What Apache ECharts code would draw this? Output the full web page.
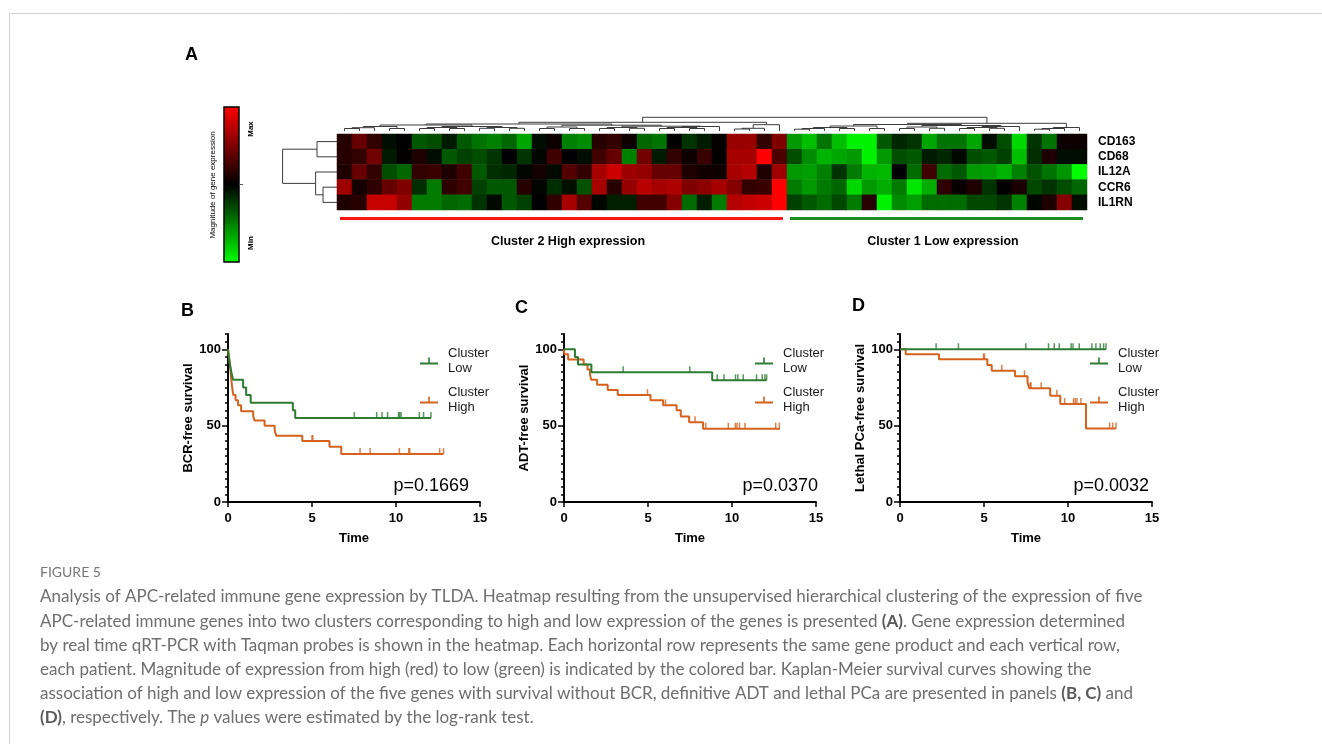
<!doctype html>
<html lang="en">
  <head>
    <meta charset="utf-8">
    <title>Figure 5</title>
    <script src="https://cdn.jsdelivr.net/npm/echarts@6.0.0/dist/echarts.min.js"></script>
    <style>
      html, body {
        width: 100%;
        height: 100%;
        margin: 0;
        background: #fff;
      }

      #chart {
        width: 1322px;
        height: 744px;
      }
    </style>
  </head>
  <body>
    <div id="chart"></div>
    <script>
      // ---- heatmap (A) ----
      const genes = ['CD163', 'CD68', 'IL12A', 'CCR6', 'IL1RN'];
      const patients = Array.from({ length: 50 }, (_, i) => 'P' + (i + 1));

      const cd163 = [0.15, 0.4, 0.2, -0.05, 0, -0.35, -0.3, -0.1, -0.35, -0.45, -0.5, -0.4, -0.65, -0.05, 0.05, -0.5, -0.55, 0.15, 0.2, 0.05, -0.4, -0.45, 0, -0.2, -0.1,
        0.02, 0.6, 0.6, 0.2, 0.5, -0.6, -0.75, -0.45, -0.75, -0.95, -0.95, -0.35, -0.15, -0.2, -0.65, -0.45, -0.45, -0.65, -0.05, -0.3, -0.85, -0.2, -0.45, 0.05, 0.05];
      const cd68 = [0.15, 0.2, 0.45, -0.1, 0.02, 0.12, -0.05, -0.35, -0.25, -0.3, -0.2, 0, -0.2, -0.02, 0.25, 0, -0.05, 0.25, 0.4, -0.5, 0.45, -0.1, 0.2, 0.05, 0.22,
        0.02, 0.65, 0.65, 1.0, 0.3, -0.3, -0.55, -0.7, -0.65, -0.6, -0.95, -0.6, -0.3, -0.35, -0.1, -0.15, -0.03, -0.3, -0.35, -0.25, -0.75, -0.18, 0.12, -0.05, -0.05];
      const il12a = [0.12, 0.4, 0.2, -0.3, -0.4, 0.2, 0.22, 0.12, 0.25, -0.35, -0.18, -0.15, -0.02, 0.08, -0.04, 0.32, 0.2, 0.65, 0.8, 0.62, 0.58, 0.4, 0.4, 0.12, 0.07,
        0.05, 0.65, 0.7, 0.12, 0.62, -0.6, -0.62, -0.5, -0.2, -0.48, -0.7, -0.72, 0, -0.42, 0.25, -0.42, -0.35, -0.6, -0.62, -0.7, -0.5, -0.32, -0.45, -0.58, -1.0];
      const ccr6 = [0.62, 0.08, 0.18, 0.4, 0.5, -0.18, -0.48, 0.18, 0.25, -0.25, -0.35, -0.35, 0.15, -0.02, -0.18, -0.06, -0.32, 0.65, 0.15, 0.58, 0.72, 0.65, 0.68, 0.5, 0.55,
        0.65, 0.52, 0.2, 0.22, 1.0, -0.48, -0.6, -0.48, -0.4, -0.85, -0.6, -0.68, -0.48, -0.9, -0.68, 0.18, 0.03, 0.12, -0.2, 0, 0.1, -0.28, -0.2, -0.3, -0.4];
      const il1rn = [0.12, 0.15, 0.78, 0.78, 0.58, -0.48, -0.48, -0.4, -0.42, -0.2, -0.03, -0.35, -0.25, 0, 0.18, 0.65, 0.32, -0.02, -0.12, -0.12, 0.25, 0.25, 0.52, -0.42, -0.12,
        -0.48, 0.7, 0.76, 0.8, 1.0, -0.25, -0.35, -0.42, -0.28, -0.48, 0.15, -0.95, -0.55, -0.62, -0.42, -0.42, -0.42, -0.28, -0.28, -0.2, -0.5, -0.02, 0.12, 0.52, -0.05];

      // column dendrogram: [childA, childB, height]; leaves 0..49, merges numbered from 50
      const colLinkage = [
        [0, 1, 2.5], [50, 2, 3.3], [3, 4, 2.5], [51, 52, 4.5], [5, 6, 2.5], [7, 8, 2.5], [54, 55, 3.5],
        [9, 10, 2.7], [11, 12, 2.7], [57, 58, 3.5], [56, 59, 4.5], [53, 60, 6], [13, 14, 2.5], [15, 16, 2.5],
        [62, 63, 4], [17, 18, 2.5], [19, 20, 2.7], [65, 66, 3.5], [21, 22, 2.5], [23, 24, 2.5], [68, 69, 3.5],
        [70, 25, 4.5], [67, 71, 4.8], [64, 72, 5.8], [61, 73, 7], [26, 27, 2], [75, 28, 2.7], [76, 29, 6.3],
        [74, 77, 8.7],
        [30, 31, 1.8], [79, 32, 2.5], [33, 34, 2.5], [80, 81, 3.5], [35, 36, 2.5], [82, 83, 5], [37, 38, 2.5],
        [39, 40, 2.7], [85, 86, 4], [41, 42, 2.5], [43, 44, 2.7], [88, 89, 3.5], [90, 45, 4.5], [87, 91, 5.5],
        [84, 92, 6.5], [46, 47, 1.8], [94, 48, 2.5], [95, 49, 3.5], [93, 96, 7.7],
        [78, 97, 13.7]
      ];
      // gene dendrogram, leaves 0..4, merges from 5
      const rowLinkage = [[0, 1, 20], [3, 4, 14], [2, 6, 21.4], [5, 7, 54.4]];

      const clusters = [
        { name: 'Cluster 2 High expression', from: 0, to: 30, color: '#ff1414' },
        { name: 'Cluster 1 Low expression', from: 30, to: 50, color: '#1b8f24' }
      ];

      // ---- Kaplan-Meier (B, C, D): [time, survival %] and censored times ----
      const bcrLow = [[0, 100], [0.05, 95], [0.12, 90], [0.2, 85], [0.3, 80], [0.9, 75], [1.08, 70], [1.35, 65], [3.86, 60], [4.0, 55], [12.08, 55]];
      const bcrLowCensor = [7.52, 8.85, 9.17, 9.5, 10.15, 10.22, 10.3, 11.39, 11.64, 12.08];
      const bcrHigh = [[0, 100], [0.04, 96.7], [0.08, 93.3], [0.11, 90], [0.14, 86.7], [0.17, 83.3], [0.2, 80], [0.23, 76.7], [0.27, 73.3], [0.32, 70],
        [0.45, 66.7], [0.6, 63.3], [0.78, 59.5], [1.5, 56.4], [1.58, 53.3], [2.18, 50], [2.78, 46.7], [2.88, 43.3], [4.42, 40], [6.04, 36.2], [6.74, 31.4], [12.83, 31.4]];
      const bcrHighCensor = [5.0, 5.05, 7.86, 8.46, 10.2, 10.76, 10.82, 12.6, 12.83];

      const adtLow = [[0, 100], [0.65, 95], [0.83, 90], [1.63, 85], [8.82, 79.7], [12.06, 79.7]];
      const adtLowCensor = [3.52, 7.49, 9.12, 9.52, 10.21, 10.35, 10.67, 11.46, 11.8, 11.96, 12.06];
      const adtHigh = [[0, 100], [0.02, 96.7], [0.25, 93.3], [1.17, 90], [1.4, 86.7], [1.55, 83.3], [1.62, 80], [1.97, 76.7], [2.6, 73.3], [3.2, 70],
        [5.15, 66.7], [5.9, 63.3], [6.7, 60], [6.95, 56], [7.45, 52.2], [8.28, 48], [12.85, 48]];
      const adtHighCensor = [4.97, 6.04, 7.8, 8.44, 9.78, 10.2, 10.3, 10.45, 10.77, 12.6, 12.82];

      const pcaLow = [[0, 100], [12.26, 100]];
      const pcaLowCensor = [2.15, 3.48, 7.49, 8.84, 9.18, 9.48, 10.19, 10.3, 10.67, 11.42, 11.66, 11.92, 12.12, 12.26];
      const pcaHigh = [[0, 100], [0.34, 96.7], [2.32, 93.4], [5.2, 89.7], [5.46, 86], [6.85, 82.3], [7.59, 78.3], [7.7, 74.4], [8.94, 69.6], [9.54, 64.1], [11.07, 48.1], [12.86, 48.1]];
      const pcaHighCensor = [4.97, 5.03, 6.06, 7.41, 7.75, 7.8, 8.4, 9.34, 9.8, 10.33, 10.43, 10.53, 10.77, 12.48, 12.66, 12.86];

      const panelLetters = ['B', 'C', 'D'];
      const yNames = ['BCR-free survival', 'ADT-free survival', 'Lethal PCa-free survival'];
      const pValues = ['p=0.1669', 'p=0.0370', 'p=0.0032'];
      const lowCurves = [bcrLow, adtLow, pcaLow];
      const lowCensors = [bcrLowCensor, adtLowCensor, pcaLowCensor];
      const highCurves = [bcrHigh, adtHigh, pcaHigh];
      const highCensors = [bcrHighCensor, adtHighCensor, pcaHighCensor];

      // ---- layout ----
      const FONT = '"Liberation Sans", Arial, sans-serif';
      const GREEN = '#2e7b33';
      const ORANGE = '#d5621f';
      const kmLayout = [
        { left: 228, legendLeft: 420, pRight: 469, letterX: 181, letterY: 311 },
        { left: 564, legendLeft: 755, pRight: 818, letterX: 515, letterY: 308 },
        { left: 900, legendLeft: 1090, pRight: 1149, letterX: 852, letterY: 306 }
      ];
      const censorIcon = 'path://M0,5.5H18V7.5H0Z M8.2,0.5H9.8V6H8.2Z';

      function dendroSegments(links, nLeaves) {
        const pos = [], hgt = [];
        for (let i = 0; i < nLeaves; i++) { pos.push(i + 0.5); hgt.push(0); }
        return links.map(([a, b, h]) => {
          const seg = [pos[a], hgt[a], pos[b], hgt[b], h];
          pos.push((pos[a] + pos[b]) / 2);
          hgt.push(h);
          return seg;
        });
      }

      function survAt(curve, t) {
        let s = curve[0][1];
        curve.forEach(p => { if (p[0] <= t) s = p[1]; });
        return s;
      }

      const heatData = [];
      [cd163, cd68, il12a, ccr6, il1rn].forEach((row, r) => row.forEach((v, c) => heatData.push([c, r, v])));

      const grids = [
        { left: 337, top: 134, width: 750, height: 76 },   // heatmap
        { left: 337, top: 112, width: 750, height: 19 },   // column dendrogram
        { left: 270, top: 134, width: 67, height: 76 },    // gene dendrogram
        { left: 337, top: 214, width: 750, height: 36 }    // cluster bars
      ];
      const xAxes = [
        { gridIndex: 0, type: 'category', data: patients, show: false },
        { gridIndex: 1, type: 'value', min: 0, max: 50, show: false },
        { gridIndex: 2, type: 'value', min: 0, max: 67, inverse: true, show: false },
        { gridIndex: 3, type: 'value', min: 0, max: 50, show: false }
      ];
      const yAxes = [
        {
          gridIndex: 0, type: 'category', data: genes, inverse: true, position: 'right',
          axisLine: { show: false }, axisTick: { show: false },
          axisLabel: { interval: 0, margin: 11, color: '#000', fontWeight: 'bold', fontSize: 12, fontFamily: FONT, padding: [3, 0, 0, 0] }
        },
        { gridIndex: 1, type: 'value', min: 0, max: 19, show: false },
        { gridIndex: 2, type: 'value', min: 0, max: 5, inverse: true, show: false },
        { gridIndex: 3, type: 'value', min: 0, max: 1, show: false }
      ];

      const series = [
        {
          type: 'heatmap', xAxisIndex: 0, yAxisIndex: 0, data: heatData,
          itemStyle: { borderWidth: 0 }, emphasis: { disabled: true }
        },
        {
          type: 'custom', xAxisIndex: 1, yAxisIndex: 1, silent: true,
          data: dendroSegments(colLinkage, patients.length),
          renderItem: (params, api) => {
            const xa = api.value(0), ha = api.value(1), xb = api.value(2), hb = api.value(3), h = api.value(4);
            return {
              type: 'polyline',
              shape: { points: [api.coord([xa, ha]), api.coord([xa, h]), api.coord([xb, h]), api.coord([xb, hb])] },
              style: { stroke: '#3c3c3c', lineWidth: 1, fill: null }
            };
          }
        },
        {
          type: 'custom', xAxisIndex: 2, yAxisIndex: 2, silent: true,
          data: dendroSegments(rowLinkage, genes.length),
          renderItem: (params, api) => {
            const ya = api.value(0), ha = api.value(1), yb = api.value(2), hb = api.value(3), h = api.value(4);
            return {
              type: 'polyline',
              shape: { points: [api.coord([ha, ya]), api.coord([h, ya]), api.coord([h, yb]), api.coord([hb, yb])] },
              style: { stroke: '#3c3c3c', lineWidth: 1, fill: null }
            };
          }
        },
        {
          type: 'custom', xAxisIndex: 3, yAxisIndex: 3, silent: true,
          data: clusters.map(c => [c.from, c.to]),
          renderItem: (params, api) => {
            const c = clusters[params.dataIndex];
            const p0 = api.coord([api.value(0), 1]);
            const p1 = api.coord([api.value(1), 1]);
            return {
              type: 'group',
              children: [
                { type: 'rect', shape: { x: p0[0] + 3, y: p0[1] + 3, width: p1[0] - p0[0] - 7, height: 3 }, style: { fill: c.color } },
                {
                  type: 'text', x: (p0[0] + p1[0]) / 2 + 6, y: p0[1] + 28,
                  style: { text: c.name, textAlign: 'center', textVerticalAlign: 'middle', font: 'bold 12.5px ' + FONT, fill: '#000' }
                }
              ]
            };
          }
        }
      ];

      const legends = [];
      const graphics = [];

      kmLayout.forEach((lay, i) => {
        const g = grids.length;
        grids.push({ left: lay.left, top: 334, width: 252, height: 168 });
        xAxes.push({
          gridIndex: g, type: 'value', min: 0, max: 15, interval: 5,
          name: 'Time', nameLocation: 'middle', nameGap: 30,
          nameTextStyle: { color: '#000', fontWeight: 'bold', fontSize: 13, fontFamily: FONT },
          axisLine: { lineStyle: { color: '#000', width: 2 } },
          axisTick: { length: 5, lineStyle: { color: '#000', width: 1.5 } },
          axisLabel: { margin: 10, color: '#000', fontWeight: 'bold', fontSize: 13, fontFamily: FONT },
          splitLine: { show: false }
        });
        yAxes.push({
          gridIndex: g, type: 'value', min: 0, max: 110, interval: 5, position: 'left',
          name: yNames[i], nameLocation: 'middle', nameGap: 33,
          nameTextStyle: { color: '#000', fontWeight: 'bold', fontSize: 13, fontFamily: FONT },
          axisLine: { show: true, lineStyle: { color: '#000', width: 2 } },
          axisTick: { show: true, length: 3, lineStyle: { color: '#000', width: 1.5 } },
          axisLabel: { margin: 7, color: '#000', fontWeight: 'bold', fontSize: 13, fontFamily: FONT, formatter: v => (v % 50 === 0 ? String(v) : '') },
          splitLine: { show: false }
        });

        const low = lowCurves[i], high = highCurves[i];
        series.push(
          {
            type: 'line', name: 'Cluster High', xAxisIndex: g, yAxisIndex: g, data: high, step: 'end',
            symbol: 'none', lineStyle: { color: ORANGE, width: 2 }, itemStyle: { color: ORANGE }, silent: true, z: 2
          },
          {
            type: 'line', name: 'Cluster Low', xAxisIndex: g, yAxisIndex: g, data: low, step: 'end',
            symbol: 'none', lineStyle: { color: GREEN, width: 2 }, itemStyle: { color: GREEN }, silent: true, z: 3
          },
          {
            type: 'scatter', name: 'Cluster High', xAxisIndex: g, yAxisIndex: g,
            data: highCensors[i].map(t => [t, survAt(high, t)]),
            symbol: 'rect', symbolSize: [1.5, 6], symbolOffset: [0, -3], itemStyle: { color: ORANGE }, silent: true, z: 2
          },
          {
            type: 'scatter', name: 'Cluster Low', xAxisIndex: g, yAxisIndex: g,
            data: lowCensors[i].map(t => [t, survAt(low, t)]),
            symbol: 'rect', symbolSize: [1.5, 6], symbolOffset: [0, -3], itemStyle: { color: GREEN }, silent: true, z: 3
          }
        );

        legends.push({
          left: lay.legendLeft, top: 346, padding: 0, orient: 'vertical', selectedMode: false,
          itemWidth: 18, itemHeight: 8, itemGap: 9,
          data: [{ name: 'Cluster Low', icon: censorIcon }, { name: 'Cluster High', icon: censorIcon }],
          formatter: n => n.replace(' ', '\n'),
          textStyle: { fontSize: 13, lineHeight: 15, color: '#1a1a1a', fontFamily: FONT, padding: [0, 0, 0, 5] }
        });

        graphics.push(
          { type: 'text', x: lay.letterX, y: lay.letterY, style: { text: panelLetters[i], font: 'bold 18px ' + FONT, fill: '#000', textVerticalAlign: 'middle' } },
          { type: 'text', x: lay.pRight, y: 486, style: { text: pValues[i], font: '18px ' + FONT, fill: '#000', textAlign: 'right', textVerticalAlign: 'middle' } }
        );
      });

      // major ticks at 0, 50, 100
      kmLayout.forEach((lay, i) => {
        yAxes.push({
          gridIndex: 4 + i, type: 'value', min: 0, max: 110, position: 'left', offset: 0,
          axisLine: { show: false },
          axisTick: { show: true, length: 6, customValues: [0, 50, 100], lineStyle: { color: '#000', width: 1.5 } },
          axisLabel: { show: false }, splitLine: { show: false }
        });
      });

      // frame, colour bar, labels, caption
      const CAPTION_FONT = 'Lato, "Open Sans", sans-serif';
      const captionStyle = { fontSize: 17, fontFamily: CAPTION_FONT, fill: '#6e6e6e' };
      const captionRich = {
        b: { fontSize: 17, fontFamily: CAPTION_FONT, fontWeight: 'bold', fill: '#5a5a5a' },
        i: { fontSize: 17, fontFamily: CAPTION_FONT, fontStyle: 'italic', fill: '#6e6e6e' }
      };
      const captionLines = [
        'Analysis of APC-related immune gene expression by TLDA. Heatmap resulting from the unsupervised hierarchical clustering of the expression of five',
        'APC-related immune genes into two clusters corresponding to high and low expression of the genes is presented {b|(A)}. Gene expression determined',
        'by real time qRT-PCR with Taqman probes is shown in the heatmap. Each horizontal row represents the same gene product and each vertical row,',
        'each patient. Magnitude of expression from high (red) to low (green) is indicated by the colored bar. Kaplan-Meier survival curves showing the',
        'association of high and low expression of the five genes with survival without BCR, definitive ADT and lethal PCa are presented in panels {b|(B, C)} and',
        '{b|(D)}, respectively. The {i|p} values were estimated by the log-rank test.'
      ];

      graphics.push(
        { type: 'polyline', shape: { points: [[9.5, 744], [9.5, 13.5], [1322, 13.5]] }, style: { stroke: '#d2d2d2', lineWidth: 1, fill: null } },
        { type: 'text', x: 185, y: 55, style: { text: 'A', font: 'bold 18px ' + FONT, fill: '#000', textVerticalAlign: 'middle' } },
        {
          type: 'rect', shape: { x: 224, y: 107, width: 15, height: 155 },
          style: {
            stroke: '#000', lineWidth: 1.5,
            fill: new echarts.graphic.LinearGradient(0, 0, 0, 1, [
              { offset: 0, color: '#ff0000' }, { offset: 0.5, color: '#000000' }, { offset: 1, color: '#00ff00' }
            ])
          }
        },
        { type: 'line', shape: { x1: 239, y1: 184.5, x2: 243, y2: 184.5 }, style: { stroke: '#555', lineWidth: 1 } },
        { type: 'text', x: 251, y: 129, rotation: Math.PI / 2, style: { text: 'Max', font: 'bold 8px ' + FONT, fill: '#000', textAlign: 'center', textVerticalAlign: 'middle' } },
        { type: 'text', x: 251, y: 243, rotation: Math.PI / 2, style: { text: 'Min', font: 'bold 8px ' + FONT, fill: '#000', textAlign: 'center', textVerticalAlign: 'middle' } },
        { type: 'text', x: 213, y: 185, rotation: Math.PI / 2, style: { text: 'Magnitude of gene expression', font: '8px ' + FONT, fill: '#000', textAlign: 'center', textVerticalAlign: 'middle' } },
        { type: 'text', x: 40, y: 572, style: { text: 'FIGURE 5', font: '14px ' + CAPTION_FONT, fill: '#777', textVerticalAlign: 'middle' } }
      );
      captionLines.forEach((line, i) => {
        graphics.push({
          type: 'text', x: 40, y: 597 + i * 24.2,
          style: Object.assign({ text: line, rich: captionRich, textVerticalAlign: 'middle' }, captionStyle)
        });
      });

      const chart = echarts.init(document.getElementById('chart'), null, { renderer: 'canvas' });
      chart.setOption({
        animation: false,
        backgroundColor: '#fff',
        textStyle: { fontFamily: FONT },
        grid: grids,
        xAxis: xAxes,
        yAxis: yAxes,
        visualMap: {
          show: false, type: 'continuous', min: -1, max: 1, seriesIndex: 0,
          inRange: { color: ['#00ff00', '#000000', '#ff0000'] }
        },
        legend: legends,
        series: series,
        graphic: graphics
      });
    </script>
  </body>
</html>
